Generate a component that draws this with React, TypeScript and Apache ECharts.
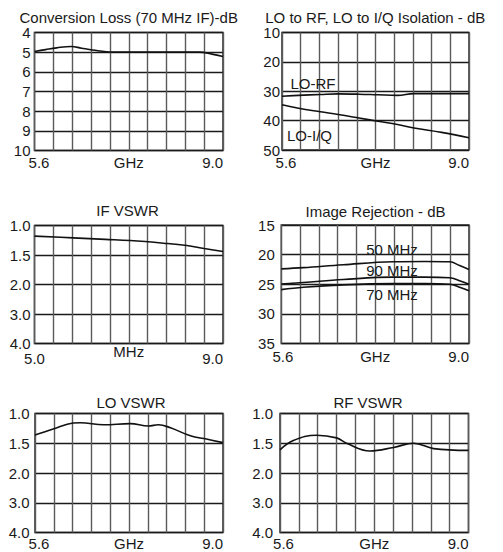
import React, { useEffect, useRef } from 'react';
import * as echarts from 'echarts';

const FONT = '"Liberation Sans", Arial, Helvetica, sans-serif';
const INK = '#1a1a1a';

// ---- Conversion Loss (70 MHz IF) - dB
const clFreq = [5.6, 5.8, 6.0, 6.26, 6.45, 6.65, 6.95, 7.5, 8.0, 8.58, 8.8, 9.0];
const clLoss = [4.97, 4.87, 4.78, 4.71, 4.8, 4.89, 4.99, 5.0, 5.0, 5.0, 5.1, 5.22];
const clTicks = ['4', '5', '6', '7', '8', '9', '10'];

// ---- LO to RF, LO to I/Q Isolation - dB
const isoFreq = [5.6, 5.9, 6.3, 6.62, 7.0, 7.34, 7.7, 8.0, 8.5, 9.0];
const loRf = [31.7, 31.4, 31.1, 30.9, 31.0, 31.2, 31.4, 30.8, 30.8, 30.8];
const loIq = [34.6, 35.8, 37.0, 37.9, 39.1, 40.2, 41.3, 42.5, 44.0, 45.8];
const isoTicks = ['10', '20', '30', '40', '50'];

// ---- IF VSWR
const ifFreq = [5.0, 5.82, 6.5, 7.03, 7.74, 8.23, 8.6, 9.0];
const ifVswr = [1.18, 1.21, 1.235, 1.255, 1.3, 1.34, 1.39, 1.44];

// ---- Image Rejection - dB
const irFreq = [5.6, 6.0, 6.72, 7.62, 8.2, 8.65, 8.83, 9.0];
const ir50 = [22.4, 22.2, 21.7, 21.2, 21.15, 21.2, 21.85, 22.5];
const ir90 = [24.95, 24.7, 24.2, 23.8, 23.8, 23.9, 24.4, 25.0];
const ir70 = [25.9, 25.5, 25.1, 24.9, 24.9, 25.0, 25.5, 26.1];
const irTicks = ['15', '20', '25', '30', '35'];

// ---- LO VSWR
const loFreq = [5.6, 5.93, 6.29, 6.42, 6.84, 7.32, 7.65, 7.83, 8.05, 8.41, 8.7, 9.0];
const loVswr = [1.36, 1.26, 1.16, 1.155, 1.19, 1.17, 1.21, 1.19, 1.24, 1.375, 1.43, 1.49];

// ---- RF VSWR
const rfFreq = [5.6, 5.84, 6.26, 6.62, 6.8, 7.22, 7.65, 8.01, 8.37, 9.0];
const rfVswr = [1.61, 1.455, 1.365, 1.41, 1.5, 1.63, 1.57, 1.5, 1.59, 1.62];

const vswrTicks = ['1.0', '1.5', '2.0', '3.0', '4.0'];

type Panel = {
  title: string;
  titleX: number;
  titleY: number;
  grid: { left: number; top: number; width: number; height: number };
  xMin: number;
  xMax: number;
  xName: string;
  yMin: number;
  yMax: number;
  yInterval: number;
  yTicks: string[];
  minPad: number;
  labelMargin: number;
  nameGap: number;
  yMargin: number;
  series: { x: number[]; y: number[] }[];
};

const panels: Panel[] = [
  {
    title: 'Conversion Loss (70 MHz IF)-dB', titleX: 128.7, titleY: 17,
    grid: { left: 34.5, top: 32.5, width: 188.5, height: 118 },
    xMin: 5.6, xMax: 9.0, xName: 'GHz',
    yMin: 4, yMax: 10, yInterval: 1, yTicks: clTicks,
    minPad: 9, labelMargin: 5, nameGap: 5, yMargin: 4,
    series: [{ x: clFreq, y: clLoss }],
  },
  {
    title: 'LO to RF, LO to I/Q Isolation - dB', titleX: 375.3, titleY: 17,
    grid: { left: 282, top: 32.5, width: 187, height: 117.5 },
    xMin: 5.6, xMax: 9.0, xName: 'GHz',
    yMin: 10, yMax: 50, yInterval: 10, yTicks: isoTicks,
    minPad: 8, labelMargin: 5, nameGap: 5, yMargin: 2,
    series: [{ x: isoFreq, y: loRf }, { x: isoFreq, y: loIq }],
  },
  {
    title: 'IF VSWR', titleX: 127.5, titleY: 210,
    grid: { left: 34.5, top: 225.5, width: 188.5, height: 118 },
    xMin: 5.0, xMax: 9.0, xName: 'MHz',
    yMin: 1, yMax: 3, yInterval: 0.5, yTicks: vswrTicks,
    minPad: 0, labelMargin: 8, nameGap: 1, yMargin: 4,
    series: [{ x: ifFreq, y: ifVswr }],
  },
  {
    title: 'Image Rejection - dB', titleX: 375.5, titleY: 211,
    grid: { left: 281.3, top: 225, width: 187.7, height: 118.5 },
    xMin: 5.6, xMax: 9.0, xName: 'GHz',
    yMin: 15, yMax: 35, yInterval: 5, yTicks: irTicks,
    minPad: 3, labelMargin: 6, nameGap: 6, yMargin: 6.5,
    series: [{ x: irFreq, y: ir50 }, { x: irFreq, y: ir90 }, { x: irFreq, y: ir70 }],
  },
  {
    title: 'LO VSWR', titleX: 131, titleY: 402,
    grid: { left: 35, top: 413.5, width: 188, height: 120.5 },
    xMin: 5.6, xMax: 9.0, xName: 'GHz',
    yMin: 1, yMax: 3, yInterval: 0.5, yTicks: vswrTicks,
    minPad: 8, labelMargin: 4, nameGap: 4, yMargin: 5.5,
    series: [{ x: loFreq, y: loVswr }],
  },
  {
    title: 'RF VSWR', titleX: 368, titleY: 402,
    grid: { left: 280, top: 413.5, width: 188.5, height: 120 },
    xMin: 5.6, xMax: 9.0, xName: 'GHz',
    yMin: 1, yMax: 3, yInterval: 0.5, yTicks: vswrTicks,
    minPad: 7, labelMargin: 4, nameGap: 4, yMargin: 7,
    series: [{ x: rfFreq, y: rfVswr }],
  },
];

const curveLabels = [
  { text: 'LO-RF', x: 313, y: 83 },
  { text: 'LO-I/Q', x: 309.5, y: 135 },
  { text: '50 MHz', x: 392, y: 249 },
  { text: '90 MHz', x: 392, y: 270.5 },
  { text: '70 MHz', x: 392, y: 294 },
];

function buildOption() {
  const grid: any[] = [];
  const xAxis: any[] = [];
  const yAxis: any[] = [];
  const series: any[] = [];
  const graphic: any[] = [];

  panels.forEach((p, i) => {
    grid.push({
      ...p.grid,
      show: true,
      borderColor: '#2a2a2a',
      borderWidth: 1.5,
      backgroundColor: 'transparent',
      containLabel: false,
    });
    const labelFont = { fontSize: 15, fontFamily: FONT, color: INK, lineHeight: 12 };
    // data axis (real units)
    xAxis.push({
      type: 'value',
      gridIndex: i,
      min: p.xMin,
      max: p.xMax,
      splitLine: { show: false },
      axisTick: { show: false },
      axisLine: { show: false },
      name: p.xName,
      nameLocation: 'middle',
      nameGap: p.nameGap,
      nameMoveOverlap: false,
      nameTextStyle: { ...labelFont, lineHeight: 14, verticalAlign: 'top' },
      axisLabel: {
        ...labelFont,
        lineHeight: 14,
        margin: p.labelMargin,
        showMinLabel: true,
        showMaxLabel: true,
        alignMaxLabel: 'right',
        formatter: (v: number) => {
          if (Math.abs(v - p.xMin) < 1e-6) return `{a|${p.xMin.toFixed(1)}}`;
          if (Math.abs(v - p.xMax) < 1e-6) return p.xMax.toFixed(1);
          return '';
        },
        rich: { a: { ...labelFont, lineHeight: 14, padding: [0, 0, 0, p.minPad] } },
      },
    });
    // helper axis for the 10 vertical grid divisions
    xAxis.push({
      type: 'value',
      gridIndex: i,
      min: 0,
      max: 10,
      interval: 1,
      position: 'top',
      axisLabel: { show: false },
      axisTick: { show: false },
      axisLine: { show: false },
      splitLine: { show: true, lineStyle: { color: '#5a5a5a', width: 1.4 } },
    });
    yAxis.push({
      type: 'value',
      gridIndex: i,
      inverse: true,
      min: p.yMin,
      max: p.yMax,
      interval: p.yInterval,
      axisTick: { show: false },
      axisLine: { show: false },
      splitLine: { show: true, lineStyle: { color: '#1a1a1a', width: 1.4 } },
      axisLabel: {
        ...labelFont,
        margin: p.yMargin,
        showMinLabel: true,
        showMaxLabel: true,
        formatter: (v: number) => p.yTicks[Math.round((v - p.yMin) / p.yInterval)] ?? '',
      },
    });
    p.series.forEach((s) => {
      series.push({
        type: 'line',
        xAxisIndex: i * 2,
        yAxisIndex: i,
        data: s.x.map((x, k) => [x, s.y[k]]),
        smooth: 0.4,
        showSymbol: false,
        symbol: 'none',
        lineStyle: { color: '#111', width: 1.6 },
        z: 5,
      });
    });
    graphic.push({
      type: 'text',
      x: p.titleX,
      y: p.titleY,
      style: {
        text: p.title,
        fontSize: 15,
        lineHeight: 14,
        fontFamily: FONT,
        fill: INK,
        align: 'center',
        verticalAlign: 'middle',
      },
    });
  });

  curveLabels.forEach((c) => {
    graphic.push({
      type: 'text',
      x: c.x,
      y: c.y,
      z: 10,
      style: {
        text: c.text,
        fontSize: 15,
        lineHeight: 14,
        fontFamily: FONT,
        fill: INK,
        align: 'center',
        verticalAlign: 'middle',
      },
    });
  });

  return {
    animation: false,
    backgroundColor: '#ffffff',
    textStyle: { fontFamily: FONT },
    grid,
    xAxis,
    yAxis,
    series,
    graphic,
  };
}

export default function App() {
  const ref = useRef<HTMLDivElement>(null);
  useEffect(() => {
    if (!ref.current) return;
    const chart = echarts.init(ref.current, undefined, { renderer: 'svg' });
    chart.setOption(buildOption());
    return () => chart.dispose();
  }, []);
  return (
    <div
      ref={ref}
      style={{ position: 'fixed', left: 0, top: 0, width: 503, height: 552, background: '#fff' }}
    />
  );
}
